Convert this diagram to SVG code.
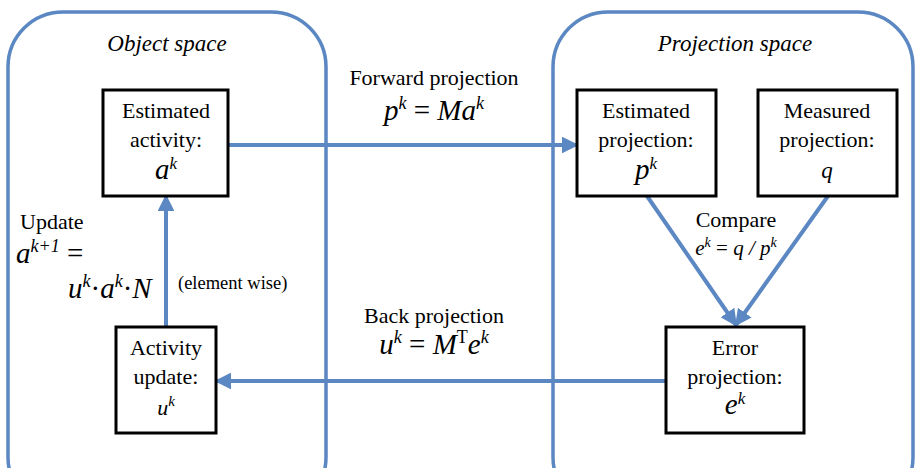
<svg xmlns="http://www.w3.org/2000/svg" width="915" height="468" viewBox="0 0 915 468" font-family="'Liberation Serif', 'Times New Roman', 'DejaVu Serif', serif">
<style>
.region{fill:none;stroke:#5B87C2;stroke-width:3.5}
.box{fill:#fff;stroke:#000;stroke-width:3}
.conn{fill:none;stroke:#5B87C2;stroke-width:4}
.c{text-anchor:middle}
.l{text-anchor:start}
.t{font-size:22px}
.m{font-size:29px;font-style:italic}
.it{font-style:italic}
</style>
<defs>
<marker id="ah" viewBox="0 0 10 10" refX="9" refY="5" markerWidth="4.2" markerHeight="4.2" orient="auto" markerUnits="strokeWidth">
<path d="M0,0 L10,5 L0,10 z" fill="#5B87C2"/>
</marker>
</defs>
<g id="object-space">
<rect class="region" x="8" y="12" width="318" height="500" rx="55"/>
<text class="c it" x="167" y="51" font-size="23">Object space</text>
</g>
<g id="projection-space">
<rect class="region" x="553" y="12" width="360" height="500" rx="55"/>
<text class="c it" x="735" y="51" font-size="23">Projection space</text>
</g>
<g id="connectors">
<line class="conn" x1="228" y1="145" x2="577" y2="145" marker-end="url(#ah)"/>
<line class="conn" x1="666" y1="381" x2="216" y2="381" marker-end="url(#ah)"/>
<line class="conn" x1="166" y1="327" x2="166" y2="196" marker-end="url(#ah)"/>
<line class="conn" x1="647" y1="196" x2="736" y2="325" marker-end="url(#ah)"/>
<line class="conn" x1="828" y1="196" x2="736" y2="325" marker-end="url(#ah)"/>
</g>
<g id="estimated-activity">
<rect class="box" x="103" y="90" width="125" height="106"/>
<text class="c t" x="166" y="118">Estimated</text>
<text class="c t" x="166" y="147">activity:</text>
<text class="c m" x="166" y="179" font-size="28">a<tspan font-size="17" dy="-10">k</tspan></text>
</g>
<g id="activity-update">
<rect class="box" x="116" y="327" width="100" height="106"/>
<text class="c t" x="166" y="355">Activity</text>
<text class="c t" x="166" y="384">update:</text>
<text class="c it" x="166" y="415" font-size="22">u<tspan font-size="15" dy="-9">k</tspan></text>
</g>
<g id="estimated-projection">
<rect class="box" x="577" y="90" width="139" height="106"/>
<text class="c t" x="646" y="118">Estimated</text>
<text class="c t" x="646" y="147">projection:</text>
<text class="c m" x="646" y="179" font-size="28">p<tspan font-size="17" dy="-10">k</tspan></text>
</g>
<g id="measured-projection">
<rect class="box" x="758" y="90" width="139" height="106"/>
<text class="c t" x="827" y="118">Measured</text>
<text class="c t" x="827" y="147">projection:</text>
<text class="c it" x="827" y="178" font-size="23">q</text>
</g>
<g id="error-projection">
<rect class="box" x="666" y="327" width="138" height="106"/>
<text class="c t" x="735" y="355">Error</text>
<text class="c t" x="735" y="384">projection:</text>
<text class="c m" x="735" y="414" font-size="28">e<tspan font-size="17" dy="-10">k</tspan></text>
</g>
<g id="labels">
<text class="c t" x="434" y="85">Forward projection</text>
<text class="c m" x="434" y="120">p<tspan font-size="18" dy="-11">k</tspan><tspan dy="11" font-style="normal"> = </tspan>Ma<tspan font-size="18" dy="-11">k</tspan></text>
<text class="c t" x="434" y="323">Back projection</text>
<text class="c m" x="434" y="354">u<tspan font-size="18" dy="-11">k</tspan><tspan dy="11" font-style="normal"> = </tspan>M<tspan font-size="18" dy="-11" font-style="normal">T</tspan><tspan dy="11">e</tspan><tspan font-size="18" dy="-11">k</tspan></text>
<text class="c t" x="736" y="227">Compare</text>
<text class="c it" x="736" y="255" font-size="21">e<tspan font-size="14" dy="-8">k</tspan><tspan dy="8" font-style="normal"> = </tspan>q / p<tspan font-size="14" dy="-8">k</tspan></text>
<text class="l t" x="20" y="229">Update</text>
<text class="l m" x="16" y="263">a<tspan font-size="18" dy="-11">k+1</tspan><tspan dy="11" font-style="normal"> =</tspan></text>
<text class="l m" x="68" y="298">u<tspan font-size="18" dy="-11">k</tspan><tspan dy="11" font-style="normal">·</tspan>a<tspan font-size="18" dy="-11">k</tspan><tspan dy="11" font-style="normal">·</tspan>N</text>
<text class="l" x="178" y="289" font-size="18.5">(element wise)</text>
</g>
</svg>
